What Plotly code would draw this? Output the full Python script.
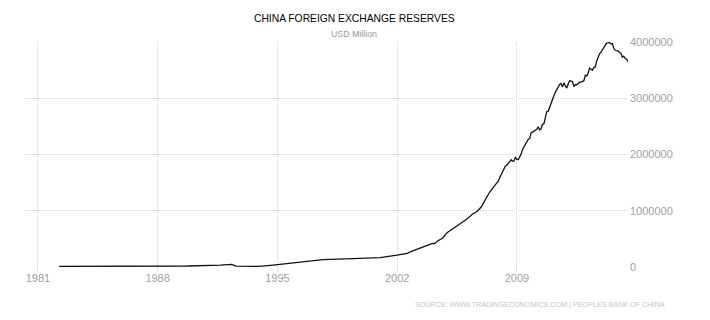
import plotly.graph_objects as go

# ---- data (USD million) ----
dates = [
    "1982-04-01", "1985-01-01", "1988-01-01", "1989-10-01", "1991-09-01",
    "1992-05-01", "1992-08-01", "1993-04-01", "1993-12-01", "1994-10-01",
    "1996-05-01", "1997-09-01", "1999-06-01", "2001-01-01", "2002-01-01",
    "2002-08-01", "2002-12-01", "2003-03-01", "2003-06-01", "2003-09-01",
    "2003-12-01", "2004-02-01", "2004-03-01", "2004-06-01", "2004-09-01",
    "2004-12-01", "2005-03-01", "2005-06-01", "2005-09-01", "2005-12-01",
    "2006-03-01", "2006-06-01", "2006-09-01", "2006-12-01", "2007-03-01",
    "2007-06-01", "2007-09-01", "2007-12-01",
    "2008-01-01", "2008-02-01", "2008-03-01", "2008-04-01", "2008-05-01", "2008-06-01",
    "2008-07-01", "2008-08-01", "2008-09-01", "2008-10-01", "2008-11-01", "2008-12-01",
    "2009-01-01", "2009-02-01", "2009-03-01", "2009-04-01", "2009-05-01", "2009-06-01",
    "2009-07-01", "2009-08-01", "2009-09-01", "2009-10-01", "2009-11-01", "2009-12-01",
    "2010-01-01", "2010-02-01", "2010-03-01", "2010-04-01", "2010-05-01", "2010-06-01",
    "2010-07-01", "2010-08-01", "2010-09-01", "2010-10-01", "2010-11-01", "2010-12-01",
    "2011-01-01", "2011-02-01", "2011-03-01", "2011-04-01", "2011-05-01", "2011-06-01",
    "2011-07-01", "2011-08-01", "2011-09-01", "2011-10-01", "2011-11-01", "2011-12-01",
    "2012-01-01", "2012-02-01", "2012-03-01", "2012-04-01", "2012-05-01", "2012-06-01",
    "2012-07-01", "2012-08-01", "2012-09-01", "2012-10-01", "2012-11-01", "2012-12-01",
    "2013-01-01", "2013-02-01", "2013-03-01", "2013-04-01", "2013-05-01", "2013-06-01",
    "2013-07-01", "2013-08-01", "2013-09-01", "2013-10-01", "2013-11-01", "2013-12-01",
    "2014-01-01", "2014-02-01", "2014-03-01", "2014-04-01", "2014-05-01", "2014-06-01",
    "2014-07-01", "2014-08-01", "2014-09-01", "2014-10-01", "2014-11-01", "2014-12-01",
    "2015-01-01", "2015-02-01", "2015-03-01", "2015-04-01", "2015-05-01", "2015-06-01",
    "2015-07-01",
]
reserves = [
    12000, 13000, 15000, 18000, 35000,
    48000, 16000, 8000, 12000, 35000,
    85000, 130000, 150000, 165000, 213000,
    243000, 286000, 316000, 346000, 384000,
    403000, 420000, 412000, 470000, 515000,
    610000, 659000, 711000, 769000, 819000,
    875000, 941000, 988000, 1066000, 1202000,
    1333000, 1434000, 1528000,
    1590000, 1647000, 1682000, 1757000, 1797000, 1809000,
    1845000, 1884000, 1906000, 1880000, 1885000, 1946000,
    1914000, 1912000, 1954000, 2009000, 2090000, 2132000,
    2175000, 2211000, 2273000, 2284000, 2389000, 2399000,
    2415000, 2425000, 2447000, 2491000, 2440000, 2454000,
    2538000, 2548000, 2648000, 2761000, 2768000, 2847000,
    2932000, 2991000, 3045000, 3105000, 3166000, 3198000,
    3245000, 3263000, 3202000, 3274000, 3221000, 3181000,
    3254000, 3310000, 3305000, 3299000, 3206000, 3240000,
    3240000, 3273000, 3285000, 3287000, 3298000, 3312000,
    3410000, 3395000, 3443000, 3535000, 3515000, 3497000,
    3548000, 3553000, 3663000, 3737000, 3790000, 3821000,
    3867000, 3914000, 3948000, 3979000, 3984000, 3993000,
    3966000, 3969000, 3888000, 3853000, 3847000, 3843000,
    3813000, 3802000, 3730000, 3748000, 3711000, 3694000,
    3651000,
]

x_tickvals = ["1981-01-01", "1988-01-01", "1995-01-01", "2002-01-01", "2009-01-01"]
x_ticktext = ["1981", "1988", "1995", "2002", "2009"]
y_tickvals = [0, 1000000, 2000000, 3000000, 4000000]
y_ticktext = ["0", "1000000", "2000000", "3000000", "4000000"]

title = "CHINA FOREIGN EXCHANGE RESERVES"
subtitle = "USD Million"
source = "SOURCE: WWW.TRADINGECONOMICS.COM | PEOPLES BANK OF CHINA"

FONT = "Liberation Sans"

ML, MR, MT, MB = 24, 82, 42, 53

fig = go.Figure()
fig.add_trace(go.Scatter(
    x=dates, y=reserves, mode="lines",
    line=dict(color="#111111", width=1.3),
    hoverinfo="skip",
))

fig.update_layout(
    width=710, height=320,
    margin=dict(l=ML, r=MR, t=MT, b=MB),
    paper_bgcolor="white", plot_bgcolor="white",
    showlegend=False,
    font=dict(family=FONT, color="#a0a0a0", size=11),
    xaxis=dict(
        type="date",
        range=["1980-03-10", "2015-07-01"],
        tickvals=x_tickvals, ticktext=x_ticktext,
        showgrid=True, gridcolor="#d2d2d2", griddash="1px,1px", gridwidth=1,
        ticks="outside", ticklen=4, tickcolor="#e2e2e2",
        ticklabelstandoff=-3,
        showline=False, zeroline=False,
        tickfont=dict(size=11, color="#a0a0a0", family=FONT),
    ),
    yaxis=dict(
        side="right",
        range=[0, 4000000],
        tickvals=y_tickvals, ticktext=y_ticktext,
        showgrid=True, gridcolor="#d2d2d2", griddash="1px,1px", gridwidth=1,
        ticks="", showline=False, zeroline=False,
        ticklabelstandoff=1,
        tickfont=dict(size=11, color="#a0a0a0", family=FONT),
    ),
)

H_plot = 320 - MT - MB
W_plot = 710 - ML - MR
def ypx(py):
    return (320 - MB - py) / H_plot
def xpx(px):
    return (px - ML) / W_plot

fig.add_annotation(text=title, x=xpx(354.5), y=ypx(18.5), xref="paper", yref="paper",
                   showarrow=False, xanchor="center", yanchor="middle",
                   font=dict(family=FONT, size=10.3, color="#000000"))
fig.add_annotation(text=subtitle, x=xpx(354), y=ypx(34), xref="paper", yref="paper",
                   showarrow=False, xanchor="center", yanchor="middle",
                   font=dict(family=FONT, size=8.8, color="#999999"))
fig.add_annotation(text=source, x=xpx(667), y=ypx(304), xref="paper", yref="paper",
                   showarrow=False, xanchor="right", yanchor="middle",
                   font=dict(family=FONT, size=7.2, color="#c4c4c4"))

fig.write_html("out.html")
